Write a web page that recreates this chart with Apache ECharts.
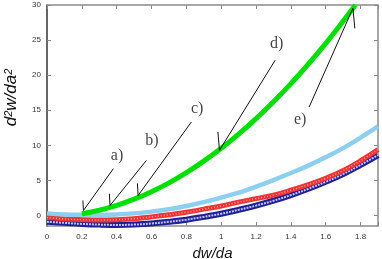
<!DOCTYPE html>
<html><head><meta charset="utf-8">
<script src="https://cdn.jsdelivr.net/npm/echarts@6/dist/echarts.min.js"></script>
<style>html,body{margin:0;padding:0;background:#fff}#c{width:382px;height:259px}</style>
</head><body><div id="c"></div>
<script>
// x values for the three lower curves
const xCommon = [0,0.1,0.2,0.3,0.4,0.5,0.6,0.7,0.8,0.9,1.0,1.1,1.2,1.3,1.4,1.5,1.6,1.7,1.8,1.9];
const lightBlueY = [0.3,0.15,0.1,0.1,0.15,0.3,0.55,0.9,1.35,1.9,2.55,3.25,4.1,5.05,6.05,7.1,8.3,9.6,11.1,12.7];
const redY = [-0.3,-0.5,-0.6,-0.65,-0.6,-0.45,-0.2,0.1,0.45,0.9,1.35,1.9,2.4,2.9,3.6,4.4,5.3,6.4,7.8,9.4];
const darkBlueY = [-0.9,-1.05,-1.2,-1.3,-1.35,-1.3,-1.15,-0.9,-0.6,-0.2,0.25,0.8,1.4,2.1,2.9,3.8,4.8,5.9,7.2,8.6];
// green curve
const greenX = [0.2,0.3,0.4,0.5,0.6,0.7,0.8,0.9,1.0,1.1,1.2,1.3,1.4,1.5,1.6,1.7,1.77];
const greenY = [0.25,0.75,1.44,2.32,3.39,4.65,6.1,7.74,9.57,11.59,13.8,16.2,18.79,21.57,24.54,27.7,30];
// tick labels
const xTicks = [0,0.2,0.4,0.6,0.8,1,1.2,1.4,1.6,1.8];
const yTicks = [0,5,10,15,20,25,30];
// annotations (data coordinates)
const annNames = ['a)','b)','c)','d)','e)'];
const annText = [[0.402,8.57],[0.602,10.71],[0.862,15.21],[1.319,24.5],[1.453,13.57]];
const annStart = [[0.381,6.67],[0.571,7.86],[0.829,13.33],[1.310,22.14],[1.505,15.47]];
const annTip = [[0.209,0.71],[0.362,1.43],[0.523,2.86],[0.990,9.29],[1.756,29.53]];
const annBarb = [[0.206,2.14],[0.358,3.1],[0.519,4.57],[0.981,11.9],[1.767,26.67]];

const zip = (xs, ys) => xs.map((x, i) => [x, ys[i]]);

const chart = echarts.init(document.getElementById('c'), null, {renderer: 'canvas'});
const axisGrey = '#8a8a8a';
const lineSeries = (data, color, width, z, extra) => Object.assign({
  type: 'line', data, smooth: 0.4, showSymbol: false, z,
  lineStyle: {color, width}, silent: true, animation: false
}, extra || {});

const arrowLines = [];
annStart.forEach((s, i) => {
  arrowLines.push({coords: [s, annTip[i]]});
  arrowLines.push({coords: [annBarb[i], annTip[i]]});
});

chart.setOption({
  animation: false,
  grid: {left: 47, right: 4, top: 5, bottom: 33, outerBoundsMode: 'none', containLabel: false},
  xAxis: [{
    type: 'value', min: 0, max: 1.9, interval: 0.2,
    name: 'dw/da', nameLocation: 'middle', nameGap: 20,
    nameTextStyle: {fontFamily: 'Liberation Sans', fontStyle: 'italic', fontSize: 15, color: '#111'},
    axisLine: {show: true, onZero: false, lineStyle: {color: axisGrey, width: 1.5}},
    axisTick: {show: true, inside: true, length: 4, lineStyle: {color: axisGrey}},
    axisLabel: {fontFamily: 'Liberation Sans', fontSize: 8, color: '#333', margin: 7,
      customValues: xTicks},
    splitLine: {show: false}
  }, {
    type: 'value', min: 0, max: 1.9, interval: 0.2, position: 'top',
    axisLine: {show: true, onZero: false, lineStyle: {color: axisGrey, width: 1.5}},
    axisTick: {show: true, inside: true, length: 4, lineStyle: {color: axisGrey}},
    axisLabel: {show: false}, splitLine: {show: false}
  }],
  yAxis: [{
    type: 'value', min: -1.5, max: 30,
    name: 'd{s|2}w/da{s|2}', nameLocation: 'middle', nameGap: 27, nameRotate: 90,
    nameTextStyle: {fontFamily: 'Liberation Sans', fontStyle: 'italic', fontSize: 17, color: '#111',
      padding: [0, 0, 0, 36],
      rich: {s: {fontFamily: 'Liberation Sans', fontSize: 11, verticalAlign: 'top', lineHeight: 11, color: '#111'}}},
    axisLine: {show: true, onZero: false, lineStyle: {color: '#333', width: 1.5}},
    axisTick: {show: true, inside: true, length: 4, lineStyle: {color: axisGrey}, customValues: yTicks},
    axisLabel: {fontFamily: 'Liberation Sans', fontSize: 8, color: '#333', margin: 6, customValues: yTicks},
    splitLine: {show: false}
  }, {
    type: 'value', min: -1.5, max: 30, position: 'right',
    axisLine: {show: true, onZero: false, lineStyle: {color: axisGrey, width: 1.5}},
    axisTick: {show: true, inside: true, length: 4, lineStyle: {color: axisGrey}, customValues: yTicks},
    axisLabel: {show: false}, splitLine: {show: false}
  }],
  series: [
    lineSeries(zip(xCommon, darkBlueY), '#1f1f96', 6, 2),
    lineSeries(zip(xCommon, darkBlueY), '#b8b8e8', 2, 3, {lineStyle: {color: '#c0c0ee', width: 2, type: [2, 1]}}),
    lineSeries(zip(xCommon, redY), '#f03434', 5, 4),
    lineSeries(zip(xCommon, redY), '#ff9a9a', 2, 5, {lineStyle: {color: '#ffa0a0', width: 1.5, type: [1, 2]}}),
    lineSeries(zip(xCommon, lightBlueY), '#8ccfee', 4.5, 6),
    lineSeries(zip(greenX, greenY), '#00e000', 5, 7),
    {
      type: 'lines', coordinateSystem: 'cartesian2d', z: 8, silent: true,
      lineStyle: {color: '#111', width: 1, opacity: 1},
      data: arrowLines
    },
    {
      type: 'scatter', z: 9, silent: true, symbolSize: 1,
      itemStyle: {color: 'rgba(0,0,0,0)'},
      label: {show: true, position: 'inside', formatter: p => p.name,
        fontFamily: 'Liberation Serif', fontSize: 16, color: '#111'},
      data: annText.map((p, i) => ({name: annNames[i], value: p}))
    }
  ]
});
</script></body></html>
